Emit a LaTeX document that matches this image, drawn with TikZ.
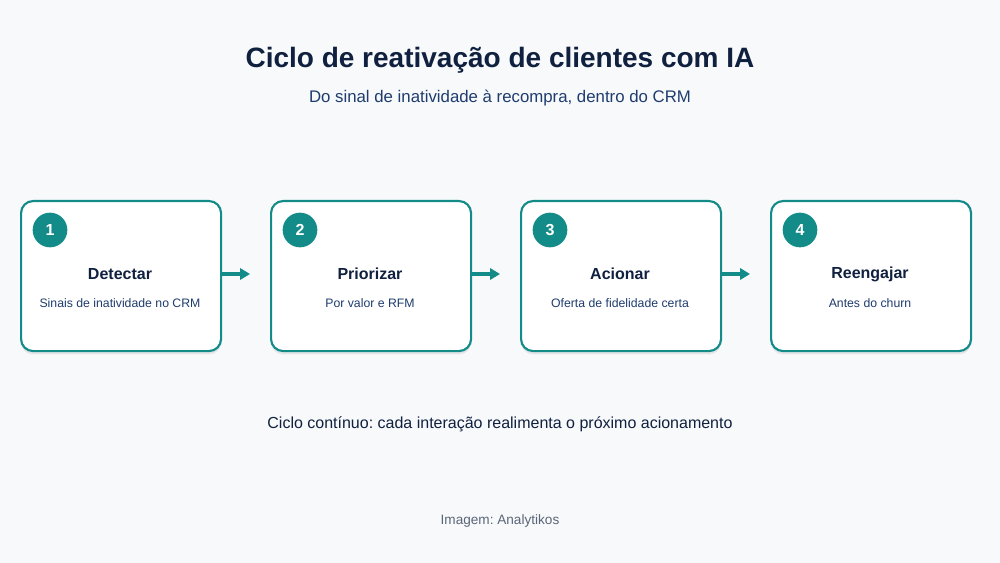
\documentclass[tikz,border=0pt]{standalone}
\usepackage{fontspec}
\setmainfont{Liberation Sans}
\frenchspacing
\usetikzlibrary{arrows.meta,shadows}
\definecolor{bgpage}{HTML}{F7F9FB}
\definecolor{tealmain}{HTML}{138B88}
\definecolor{navy}{HTML}{10203F}
\definecolor{bluetext}{HTML}{1F3C6E}
\definecolor{grayfoot}{HTML}{5B6678}
\tikzset{
  stepcard/.style={draw=tealmain,line width=1.6pt,fill=white,rounded corners=9pt,
    minimum width=150pt,minimum height=112.5pt,anchor=north west,
    drop shadow={shadow xshift=0pt,shadow yshift=-2.5pt,opacity=0.08,fill=black}},
  stepnum/.style={circle,fill=tealmain,text=white,minimum size=26pt,inner sep=0pt,
    font=\fontsize{12}{14}\selectfont\bfseries},
  steptitle/.style={text=navy,font=\fontsize{12}{14}\selectfont\bfseries},
  stepdesc/.style={text=bluetext,font=\fontsize{9.2}{11}\selectfont},
  flow/.style={draw=tealmain,line width=2.3pt,shorten >=15pt,
    -{Triangle[length=7.5pt,width=8.5pt]}}
}
\begin{document}
\begin{tikzpicture}[x=0.75pt,y=-0.75pt]
  \fill[bgpage] (0,0) rectangle (1000,563);
  \useasboundingbox (0,0) rectangle (1000,563);
  % heading
  \node[text=navy,font=\fontsize{21}{24}\selectfont\bfseries] (title) at (500,60)
    {Ciclo de reativação de clientes com IA};
  \node[text=bluetext,font=\fontsize{12.6}{15}\selectfont] (subtitle) at (500,98)
    {Do sinal de inatividade à recompra, dentro do CRM};
  % the four stages
  \foreach \X/\T/\D in {1/Detectar/Sinais de inatividade no CRM,
                        2/Priorizar/Por valor e RFM,
                        3/Acionar/Oferta de fidelidade certa,
                        4/Reengajar/Antes do churn}
  {
    \node[stepcard] (card\X) at ({20+250*(\X-1)},200) {};
    \node[stepnum] (num\X) at ({50+250*(\X-1)},230) {\X};
    \node[steptitle] (name\X) at ({120+250*(\X-1)},274) {\T};
    \node[stepdesc] (desc\X) at ({120+250*(\X-1)},303) {\D};
  }
  \foreach \X/\Y in {1/2,2/3,3/4}
    \draw[flow] (card\X.east |- name\X) -- (card\Y.west |- name\Y);
  % footer
  \node[text=navy,font=\fontsize{12}{14}\selectfont] (loop) at (500,424)
    {Ciclo contínuo: cada interação realimenta o próximo acionamento};
  \node[text=grayfoot,font=\fontsize{10.2}{12}\selectfont] (credit) at (500,521)
    {Imagem: Analytikos};
\end{tikzpicture}
\end{document}
